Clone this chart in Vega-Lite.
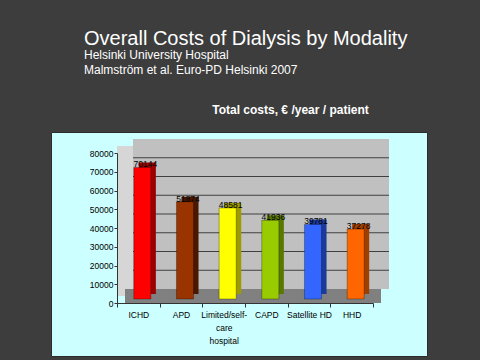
{
  "$schema": "https://vega.github.io/schema/vega-lite/v6.json",
  "width": 376,
  "height": 224,
  "autosize": {"type": "none"},
  "padding": {"left": 51, "top": 132, "right": 53, "bottom": 4},
  "background": "#3d3d3d",
  "config": {
    "view": {"fill": "#ccffff", "stroke": "#2b2b2b", "strokeWidth": 1},
    "font": "Liberation Sans"
  },
  "title": {
    "text": "Overall Costs of Dialysis by Modality",
    "subtitle": ["Helsinki University Hospital", "Malmström et al. Euro-PD  Helsinki 2007"],
    "anchor": "start",
    "frame": "group",
    "dx": 33,
    "offset": 27,
    "color": "#ffffff",
    "font": "Liberation Sans",
    "fontSize": 20,
    "fontWeight": "normal",
    "subtitleColor": "#ffffff",
    "subtitleFont": "Liberation Sans",
    "subtitleFontSize": 12,
    "subtitleFontWeight": "normal",
    "subtitleLineHeight": 15,
    "subtitlePadding": 1
  },
  "data": {
    "values": [
      {"modality": "ICHD", "cost": 70144},
      {"modality": "APD", "cost": 51874},
      {"modality": "Limited/self-care hospital", "cost": 48581},
      {"modality": "CAPD", "cost": 41936},
      {"modality": "Satellite HD", "cost": 39781},
      {"modality": "HHD", "cost": 37278}
    ]
  },
  "layer": [
    {
      "data": {"values": [{}]},
      "mark": {"type": "rect", "color": "#c0c0c0", "xOffset": 16, "x2Offset": 16, "yOffset": -14, "y2Offset": -14},
      "encoding": {
        "x": {"datum": "ICHD", "bandPosition": 0, "axis": null},
        "x2": {"datum": "HHD", "bandPosition": 1},
        "y": {"datum": 0, "axis": null},
        "y2": {"datum": 80000}
      }
    },
    {
      "data": {"values": [{}]},
      "mark": {"type": "rect", "color": "#d6d6d6", "xOffset": 0, "x2Offset": 16, "yOffset": -7, "y2Offset": -7},
      "encoding": {
        "x": {"datum": "ICHD", "bandPosition": 0, "axis": null},
        "x2": {"datum": "ICHD", "bandPosition": 0},
        "y": {"datum": 0, "axis": null},
        "y2": {"datum": 80000}
      }
    },
    {
      "data": {"values": [{}]},
      "mark": {"type": "rect", "color": "#808080", "xOffset": 8, "x2Offset": 8, "yOffset": 0, "y2Offset": -14},
      "encoding": {
        "x": {"datum": "ICHD", "bandPosition": 0, "axis": null},
        "x2": {"datum": "HHD", "bandPosition": 1},
        "y": {"datum": 0, "axis": null},
        "y2": {"datum": 0}
      }
    },
    {
      "data": {"values": [{"g": 10000}, {"g": 20000}, {"g": 30000}, {"g": 40000}, {"g": 50000}, {"g": 60000}, {"g": 70000}]},
      "mark": {"type": "rule", "color": "#404040", "strokeWidth": 1, "xOffset": 16, "x2Offset": 16, "yOffset": -14},
      "encoding": {
        "x": {"datum": "ICHD", "bandPosition": 0, "axis": null},
        "x2": {"datum": "HHD", "bandPosition": 1},
        "y": {"field": "g", "type": "quantitative", "axis": null}
      }
    },
    {
      "mark": {"type": "bar", "width": {"band": 0.4}, "xOffset": 9, "yOffset": -9, "y2Offset": -10},
      "encoding": {
        "x": {
          "field": "modality",
          "type": "nominal",
          "sort": null,
          "scale": {
            "domain": ["ICHD", "APD", "Limited/self-care hospital", "CAPD", "Satellite HD", "HHD"],
            "range": [66, 322],
            "paddingInner": 0,
            "paddingOuter": 0
          },
          "axis": {
            "orient": "bottom",
            "offset": -53,
            "zindex": 1,
            "title": null,
            "labelAngle": 0,
            "tickBand": "extent",
            "tickSize": 4,
            "tickColor": "#333333",
            "domainColor": "#333333",
            "labelColor": "#000000",
            "labelFont": "Liberation Sans",
            "labelFontSize": 8.5,
            "labelPadding": 3,
            "labelBaseline": "top",
            "labelLineHeight": 13,
            "labelOverlap": false,
            "labelLimit": 0,
            "labelExpr": "datum.value == 'Limited/self-care hospital' ? ['Limited/self-', 'care', 'hospital'] : datum.label"
          }
        },
        "y": {
          "field": "cost",
          "type": "quantitative",
          "scale": {"domain": [0, 80000], "range": [171, 21], "nice": false},
          "axis": {
            "orient": "left",
            "offset": -66,
            "zindex": 1,
            "values": [0, 10000, 20000, 30000, 40000, 50000, 60000, 70000, 80000],
            "grid": false,
            "format": "d",
            "tickSize": 3,
            "labelPadding": 1,
            "labelFont": "Liberation Sans",
            "labelFontSize": 8.5,
            "labelColor": "#000000",
            "domainColor": "#333333",
            "tickColor": "#333333",
            "title": "Total costs, € /year / patient",
            "titleColor": "#ffffff",
            "titleFont": "Liberation Sans",
            "titleFontSize": 12,
            "titleFontWeight": "bold",
            "titleAngle": 0,
            "titleX": 173,
            "titleY": -19,
            "titleAlign": "center",
            "titleBaseline": "alphabetic"
          }
        },
        "fill": {
          "field": "modality",
          "type": "nominal",
          "legend": null,
          "scale": {
            "domain": ["ICHD", "APD", "Limited/self-care hospital", "CAPD", "Satellite HD", "HHD"],
            "range": ["#9a0000", "#4a1800", "#9c9c00", "#587800", "#1c3a9a", "#a04000"]
          }
        }
      }
    },
    {
      "mark": {"type": "bar", "width": {"band": 0.4}, "xOffset": 4, "yOffset": -4, "y2Offset": -5, "stroke": "#000000", "strokeWidth": 0.5, "strokeOpacity": 0.6},
      "encoding": {
        "x": {"field": "modality", "type": "nominal", "sort": null, "axis": null},
        "y": {"field": "cost", "type": "quantitative", "axis": null},
        "color": {
          "field": "modality",
          "type": "nominal",
          "legend": null,
          "scale": {
            "domain": ["ICHD", "APD", "Limited/self-care hospital", "CAPD", "Satellite HD", "HHD"],
            "range": ["#ff0000", "#993300", "#ffff00", "#99cc00", "#3366ff", "#ff6600"]
          }
        }
      }
    },
    {
      "mark": {"type": "text", "dx": 7, "dy": -4, "baseline": "alphabetic", "font": "Liberation Sans", "fontSize": 8.5, "color": "#000000"},
      "encoding": {
        "x": {"field": "modality", "type": "nominal", "sort": null, "axis": null},
        "y": {"field": "cost", "type": "quantitative", "axis": null},
        "text": {"field": "cost", "type": "quantitative", "format": "d"}
      }
    }
  ],
  "resolve": {"axis": {"x": "independent", "y": "independent"}}
}
